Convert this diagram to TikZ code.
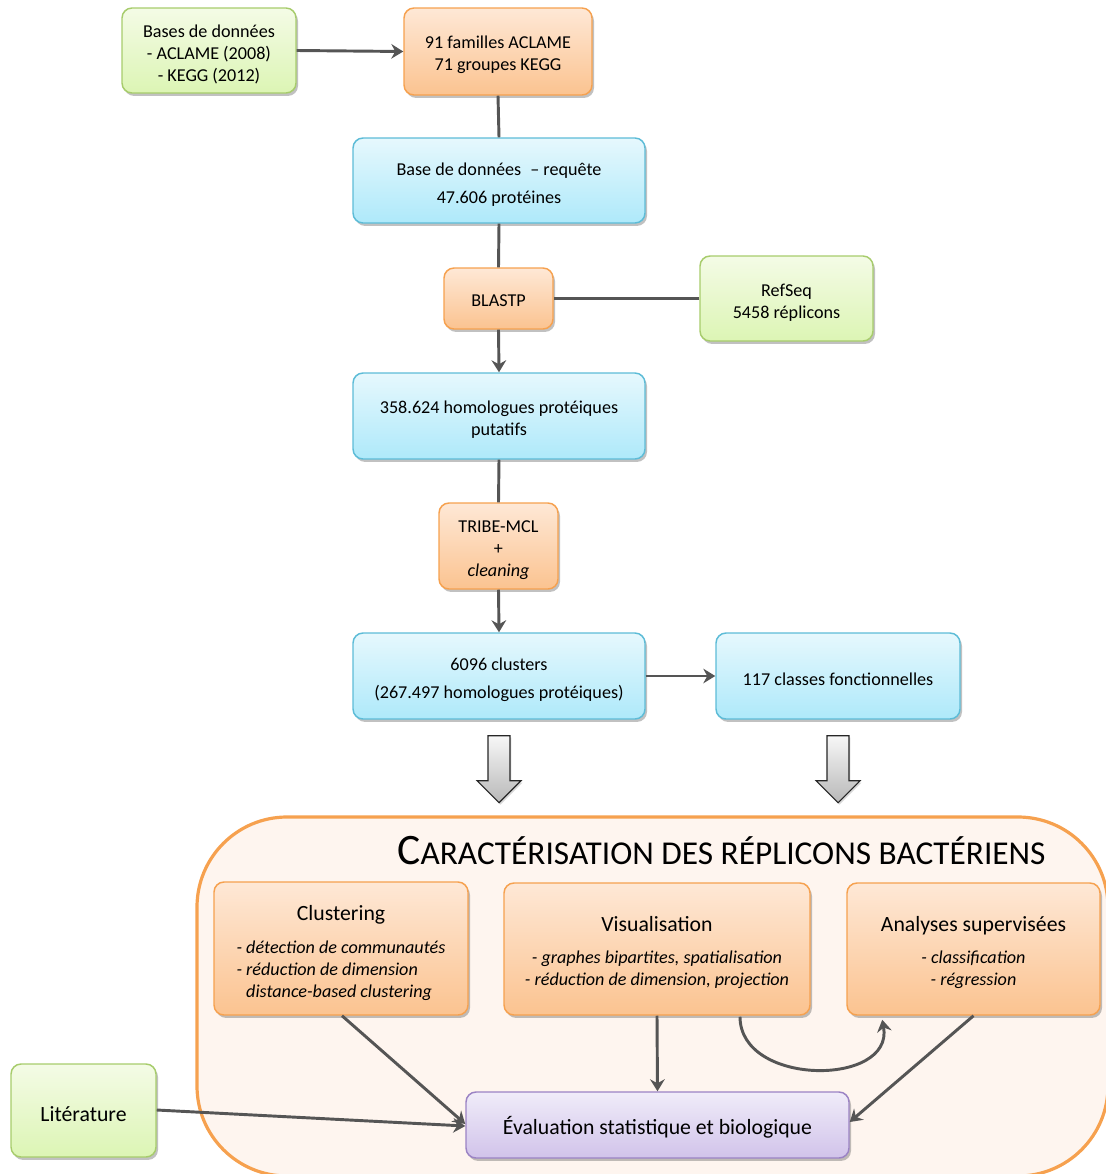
\documentclass[tikz,border=0pt]{standalone}
\usepackage{fontspec}
\setmainfont{Carlito}
\usetikzlibrary{arrows.meta,shadows,calc}

\definecolor{orTop}{HTML}{FEE8D6}
\definecolor{orBot}{HTML}{FBC390}
\definecolor{orLine}{HTML}{F6A14F}
\definecolor{blTop}{HTML}{E6F8FD}
\definecolor{blBot}{HTML}{AEE9FA}
\definecolor{blLine}{HTML}{5DBCD7}
\definecolor{grTop}{HTML}{F4FBE6}
\definecolor{grBot}{HTML}{DCF5B4}
\definecolor{grLine}{HTML}{A7CC6C}
\definecolor{puTop}{HTML}{F0ECF9}
\definecolor{puBot}{HTML}{D1C3EA}
\definecolor{puLine}{HTML}{9B83C4}
\definecolor{panelFill}{HTML}{FEF5EF}
\definecolor{linkGray}{HTML}{555555}

% invisible strut on a first line, pushes the text block slightly down
\newcommand{\tp}[1][15pt]{\rule{0pt}{#1}}
\newcommand{\boxtitle}[1]{{\fontsize{16.3}{18}\selectfont #1}}

\tikzset{
  box/.style={rounded corners=7.5pt, line width=1.1pt, align=center, inner sep=0pt,
    font=\fontsize{13.6}{16.5}\selectfont,
    drop shadow={shadow xshift=1.5pt, shadow yshift=-2.2pt, opacity=0.35, fill=black!70}},
  orangebox/.style={box, draw=orLine, top color=orTop, bottom color=orBot},
  bluebox/.style={box, draw=blLine, top color=blTop, bottom color=blBot},
  greenbox/.style={box, draw=grLine, top color=grTop, bottom color=grBot},
  purplebox/.style={box, draw=puLine, top color=puTop, bottom color=puBot},
  bigfont/.style={font=\fontsize{16.3}{18}\selectfont},
  link/.style={draw=linkGray, line width=2.2pt},
  arr/.style={link, -{Stealth[length=9pt, width=11pt, inset=3pt]}},
  blockarrow/.style={draw=black!85, line width=0.8pt, top color=black!3, bottom color=black!28,
    drop shadow={shadow xshift=1pt, shadow yshift=-1.5pt, opacity=0.3}},
  downblock/.pic={\path[blockarrow] (-11,0) -- (11,0) -- (11,45) -- (22,45) -- (0,67)
      -- (-22,45) -- (-11,45) -- cycle;}
}

\begin{document}
\begin{tikzpicture}[x=0.75pt, y=-0.75pt]
\useasboundingbox (0,0) rectangle (1106,1174);

% framed panel for the characterisation part, cut at the page edge
\begin{scope}
  \clip (0,0) rectangle (1106,1174);
  \draw[draw=orLine, fill=panelFill, line width=2.4pt, rounded corners=67.5pt]
    (197,817) rectangle (1108,1176);
\end{scope}

\node[font=\fontsize{32.6}{34}\selectfont] (title) at (721.5,851)
  {C{\fontsize{25}{27}\selectfont ARACTÉRISATION DES RÉPLICONS BACTÉRIENS}};

% upper pipeline
\node[greenbox, minimum width=130.5pt, minimum height=63.75pt] (bases) at (209,50.5)
  {\tp[15.4pt]Bases de données\\- ACLAME (2008)\\- KEGG (2012)};
\node[orangebox, minimum width=141pt, minimum height=65.25pt] (fam) at (498,51.5)
  {\tp 91 familles ACLAME\\71 groupes KEGG};
\node[bluebox, minimum width=219pt, minimum height=63.75pt] (req) at (499,180.5)
  {\tp[15.5pt]Base de données \;– requête\\[4.5pt]47.606 protéines};
\node[orangebox, minimum width=81.75pt, minimum height=45.75pt] (blastp) at (498.5,298.5)
  {\tp[12.5pt]BLASTP};
\node[greenbox, minimum width=129.75pt, minimum height=63.75pt] (refseq) at (786.5,298.5)
  {\tp RefSeq\\5458 réplicons};
\node[bluebox, minimum width=219pt, minimum height=64.5pt] (homol) at (499,416)
  {\tp 358.624 homologues protéiques\\putatifs};
\node[orangebox, minimum width=89.25pt, minimum height=64.5pt] (tribe) at (498.5,546)
  {\tp[15.3pt]TRIBE-MCL\\+\\\textit{cleaning}};
\node[bluebox, minimum width=219pt, minimum height=64.5pt] (clusters) at (499,676)
  {\tp[15.3pt]6096 clusters\\[4.5pt](267.497 homologues protéiques)};
\node[bluebox, minimum width=183pt, minimum height=64.5pt] (classes) at (838,676)
  {\tp[14pt]117 classes fonctionnelles};

\draw[arr] (bases.east) -- (fam.west);
\draw[link] (fam.south) -- (req.north);
\draw[link] (req.south) -- (blastp.north);
\draw[link] (refseq.west) -- (blastp.east);
\draw[arr] (blastp.south) -- (homol.north);
\draw[link] (homol.south) -- (tribe.north);
\draw[arr] (tribe.south) -- (clusters.north);
\draw[arr] (clusters.east) -- (classes.west);

\pic at ($(clusters.south)+(0,16)$) {downblock};
\pic at ($(classes.south)+(0,16)$) {downblock};

% analysis boxes
\node[orangebox, minimum width=190.5pt, minimum height=99.75pt] (clust) at (341,948.5)
  {\tp[20.4pt]\boxtitle{Clustering}\\[9pt]
   \itshape\begin{tabular}{@{}l@{}}- détection de communautés\\- réduction de dimension\\
   \phantom{- }distance-based clustering\end{tabular}};
\node[orangebox, minimum width=229.5pt, minimum height=99pt] (visu) at (657,949)
  {\tp[16.7pt]\boxtitle{Visualisation}\\[8pt]
   \textit{- graphes bipartites, spatialisation}\\\textit{- réduction de dimension, projection}};
\node[orangebox, minimum width=189.75pt, minimum height=99pt] (superv) at (973.5,949)
  {\tp[16.7pt]\boxtitle{Analyses supervisées}\\[8pt]
   \textit{- classification}\\\textit{- régression}};
\node[purplebox, bigfont, minimum width=287.25pt, minimum height=49.5pt] (eval) at (657.5,1125)
  {\tp[17pt]Évaluation statistique et biologique};
\node[greenbox, bigfont, minimum width=108.75pt, minimum height=69.75pt] (litt) at (83.5,1110.5)
  {\tp[16.5pt]Litérature};

\draw[arr] ($(clust.south)+(1,0)$) -- ($(eval.west)+(0,-1)$);
\draw[arr] (visu.south) -- (eval.north);
\draw[arr] (superv.south) -- ($(eval.east)+(0,-3)$);
\draw[arr] ($(litt.east)+(0,-0.5)$) -- ($(eval.west)+(0,1)$);
\draw[arr] ($(visu.south)+(83,1)$) .. controls ($(visu.south)+(83,71)$)
  and ($(superv.south west)+(48,71)$) .. ($(superv.south west)+(36,4)$);
\end{tikzpicture}
\end{document}
